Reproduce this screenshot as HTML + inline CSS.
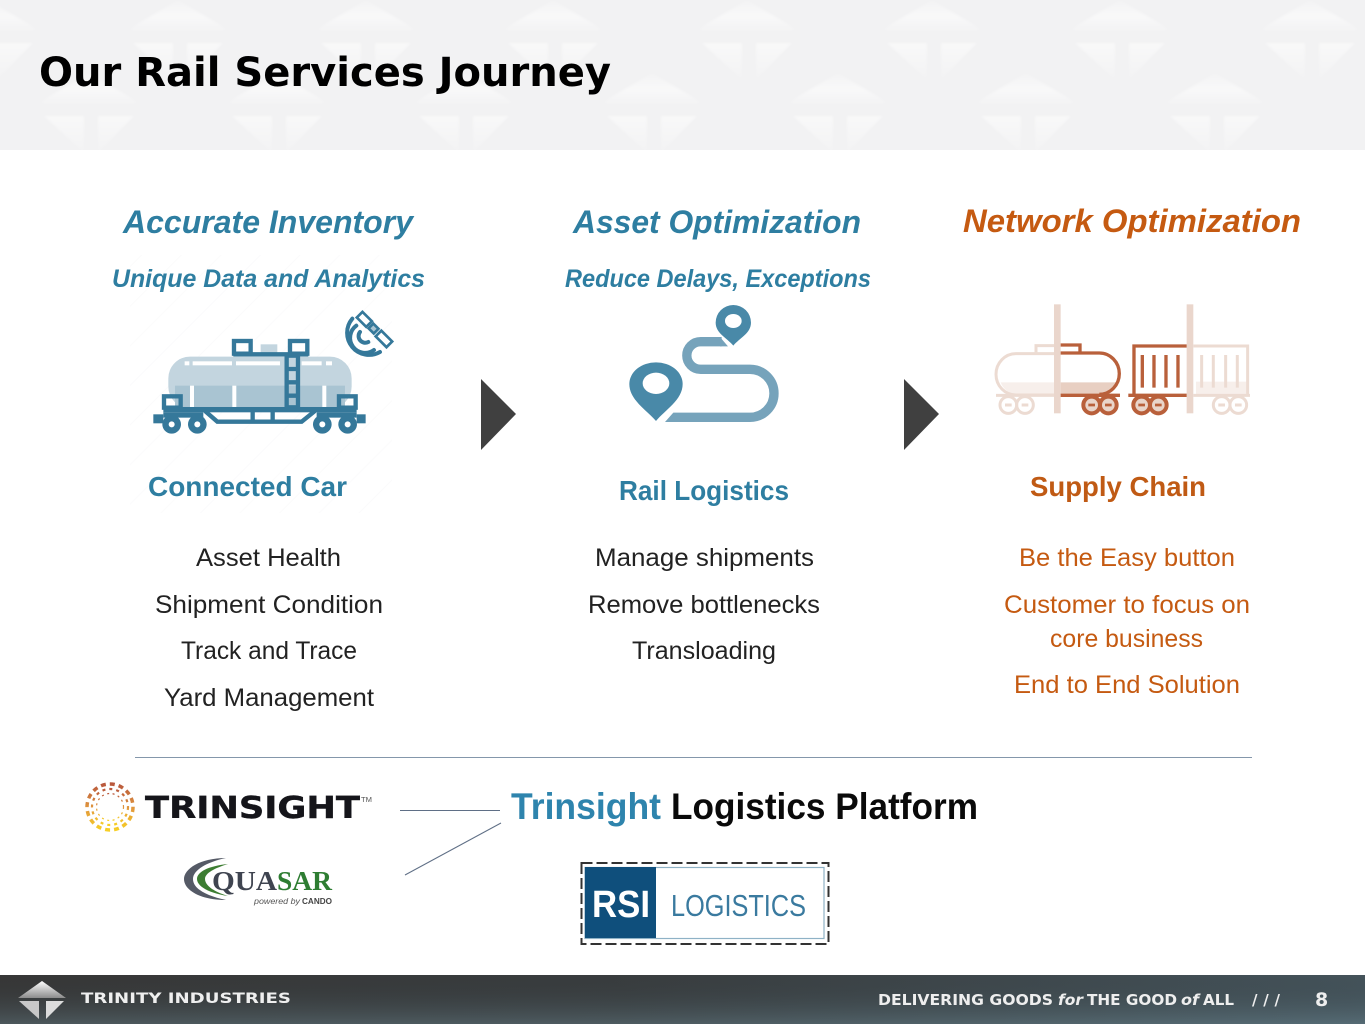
<!DOCTYPE html>
<html><head><meta charset="utf-8"><title>Our Rail Services Journey</title>
<style>
html,body{margin:0;padding:0;background:#fff;width:1365px;height:1024px;overflow:hidden}
svg{display:block}
text{font-family:"Liberation Sans",sans-serif}
.dj{font-family:"DejaVu Sans","Liberation Sans",sans-serif;font-weight:700}
.h{font-weight:700;font-style:italic}
.b{font-weight:700}
.l{fill:#222}
.o{fill:#c55a11}
</style></head><body>
<svg xmlns="http://www.w3.org/2000/svg" width="1365" height="1024" viewBox="0 0 1365 1024">
<defs>
<filter id="s" x="-5%" y="-5%" width="110%" height="110%"><feGaussianBlur stdDeviation="0.55"/></filter>
<filter id="s2" x="-5%" y="-5%" width="110%" height="110%"><feGaussianBlur stdDeviation="0.3"/></filter>
<filter id="s3" x="-5%" y="-5%" width="110%" height="110%"><feGaussianBlur stdDeviation="1.2"/></filter>
<linearGradient id="tri" x1="0" y1="0" x2="0" y2="1"><stop offset="0" stop-color="#fff" stop-opacity=".2"/><stop offset=".6" stop-color="#fff" stop-opacity=".9"/><stop offset="1" stop-color="#fff" stop-opacity=".4"/></linearGradient>
<linearGradient id="tri2" x1="0" y1="0" x2="0" y2="1"><stop offset="0" stop-color="#fff" stop-opacity=".9"/><stop offset="1" stop-color="#fff" stop-opacity=".15"/></linearGradient>
<g id="t">
<polygon points="-46,27 0,0 46,27" fill="url(#tri)"/>
<rect x="-47" y="28" width="94" height="2" fill="#fff" opacity=".5"/>
<polygon points="-45,43 -5,43 -5,80" fill="url(#tri2)"/>
<polygon points="9,43 45,43 9,80" fill="url(#tri2)"/>
</g>
<linearGradient id="foot" x1="0" y1="0" x2="1" y2="0"><stop offset="0" stop-color="#3c3c3c"/><stop offset=".45" stop-color="#3e4244"/><stop offset="1" stop-color="#4a5a62"/></linearGradient>
<linearGradient id="foot2" x1="0" y1="0" x2="0" y2="1"><stop offset="0" stop-color="#000" stop-opacity=".08"/><stop offset="1" stop-color="#6a8a96" stop-opacity=".35"/></linearGradient>
<linearGradient id="sun" x1="0" y1="0" x2="0" y2="1"><stop offset="0" stop-color="#b9583c"/><stop offset=".55" stop-color="#e39a3c"/><stop offset="1" stop-color="#f7cf25"/></linearGradient>
<linearGradient id="lg" x1="0" y1="0" x2="0" y2="1"><stop offset="0" stop-color="#fff"/><stop offset="1" stop-color="#8c8c8c"/></linearGradient>
<pattern id="hatch" width="28" height="28" patternUnits="userSpaceOnUse" patternTransform="rotate(-45)"><rect width="28" height="1" fill="#fbfbfc"/></pattern>
</defs>

<!-- header -->
<rect x="0" y="0" width="1365" height="150" fill="#f2f2f3"/>
<g filter="url(#s3)" opacity=".55">
<use href="#t" x="-12" y="0"/><use href="#t" x="178" y="0"/><use href="#t" x="366" y="0"/><use href="#t" x="553" y="0"/><use href="#t" x="747" y="0"/><use href="#t" x="932" y="0"/><use href="#t" x="1120" y="0"/><use href="#t" x="1310" y="0"/>
<use href="#t" x="89" y="73"/><use href="#t" x="277" y="73"/><use href="#t" x="464" y="73"/><use href="#t" x="652" y="73"/><use href="#t" x="838" y="73"/><use href="#t" x="1026" y="73"/><use href="#t" x="1215" y="73"/>
</g>
<rect x="0" y="150" width="1365" height="10" fill="#fff"/>
<text class="dj" x="39" y="86" font-size="40" fill="#000" textLength="572" lengthAdjust="spacingAndGlyphs">Our Rail Services Journey</text>

<!-- hatch background for train -->
<rect x="130" y="255" width="262" height="258" fill="url(#hatch)"/>

<!-- column headings -->
<g fill="#2e7ea1">
<text class="h" x="123" y="233" font-size="32" textLength="290" lengthAdjust="spacingAndGlyphs">Accurate Inventory</text>
<text class="h" x="112" y="287" font-size="25" textLength="313" lengthAdjust="spacingAndGlyphs">Unique Data and Analytics</text>
<text class="h" x="573" y="233" font-size="32" textLength="288" lengthAdjust="spacingAndGlyphs">Asset Optimization</text>
<text class="h" x="565" y="287" font-size="25" textLength="306" lengthAdjust="spacingAndGlyphs">Reduce Delays, Exceptions</text>
<text class="b" x="148" y="496" font-size="28" textLength="199" lengthAdjust="spacingAndGlyphs">Connected Car</text>
<text class="b" x="619" y="500" font-size="28" textLength="170" lengthAdjust="spacingAndGlyphs">Rail Logistics</text>
</g>
<text class="h" x="963" y="232" font-size="32" fill="#c55a11" textLength="338" lengthAdjust="spacingAndGlyphs">Network Optimization</text>
<text class="b" x="1030" y="496" font-size="28" fill="#c05a14" textLength="176" lengthAdjust="spacingAndGlyphs">Supply Chain</text>

<!-- lists -->
<g font-size="25">
<text class="l" x="196" y="566" textLength="145" lengthAdjust="spacingAndGlyphs">Asset Health</text>
<text class="l" x="155" y="613" textLength="228" lengthAdjust="spacingAndGlyphs">Shipment Condition</text>
<text class="l" x="181" y="659" textLength="176" lengthAdjust="spacingAndGlyphs">Track and Trace</text>
<text class="l" x="164" y="706" textLength="210" lengthAdjust="spacingAndGlyphs">Yard Management</text>
<text class="l" x="595" y="566" textLength="219" lengthAdjust="spacingAndGlyphs">Manage shipments</text>
<text class="l" x="588" y="613" textLength="232" lengthAdjust="spacingAndGlyphs">Remove bottlenecks</text>
<text class="l" x="632" y="659" textLength="144" lengthAdjust="spacingAndGlyphs">Transloading</text>
<text class="o" x="1019" y="566" textLength="216" lengthAdjust="spacingAndGlyphs">Be the Easy button</text>
<text class="o" x="1004" y="613" textLength="246" lengthAdjust="spacingAndGlyphs">Customer to focus on</text>
<text class="o" x="1050" y="647" textLength="153" lengthAdjust="spacingAndGlyphs">core business</text>
<text class="o" x="1014" y="693" textLength="226" lengthAdjust="spacingAndGlyphs">End to End Solution</text>
</g>

<!-- arrows -->
<polygon points="481,379 516,414 481,450" fill="#404040"/>
<polygon points="904,379 939,414 904,450" fill="#404040"/>

<!-- train icon -->
<g transform="translate(120 295) scale(.3333)" filter="url(#s)">
<rect x="422" y="148" width="50" height="30" fill="#c3d5df"/>
<rect x="145" y="185" width="550" height="155" rx="65" fill="#c3d5df"/>
<rect x="165" y="272" width="510" height="65" fill="#a9c4d2"/>
<g fill="#fff"><rect x="218" y="199" width="118" height="12"/><rect x="348" y="199" width="132" height="12"/><rect x="545" y="199" width="60" height="12"/><rect x="618" y="199" width="18" height="12"/><rect x="194" y="199" width="14" height="12"/>
<rect x="210" y="272" width="12" height="65"/><rect x="337" y="272" width="12" height="65"/><rect x="607" y="272" width="12" height="65"/></g>
<g fill="none" stroke="#35789a" stroke-width="13">
<rect x="342" y="138" width="50" height="38"/><rect x="510" y="138" width="52" height="38"/>
<rect x="500" y="182" width="34" height="155"/>
<path d="M500 222H534M500 262H534M500 302H534"/>
<rect x="132" y="304" width="50" height="34"/><rect x="657" y="304" width="50" height="34"/>
<path d="M340 178H565"/>
<path d="M255 348L292 380H545L585 348M398 348V380M458 348V380"/>
</g>
<rect x="130" y="336" width="580" height="16" fill="#35789a"/>
<rect x="100" y="358" width="30" height="27" fill="#35789a"/><rect x="710" y="358" width="27" height="27" fill="#35789a"/>
<rect x="130" y="352" width="120" height="16" fill="#35789a"/><rect x="590" y="352" width="120" height="16" fill="#35789a"/>
<g fill="#35789a"><circle cx="155" cy="388" r="28"/><circle cx="232" cy="388" r="28"/><circle cx="607" cy="388" r="28"/><circle cx="683" cy="388" r="28"/></g>
<g fill="#fff"><circle cx="155" cy="388" r="9"/><circle cx="232" cy="388" r="9"/><circle cx="607" cy="388" r="9"/><circle cx="683" cy="388" r="9"/></g>
<g fill="none" stroke="#35789a" stroke-width="12" stroke-linecap="round">
<path d="M697 71A66 66 0 0 0 780 171"/>
<path d="M709 92A42 42 0 0 0 762 165"/>
<path d="M720 111A20 20 0 0 0 745 141"/>
</g>
<g transform="rotate(45 760 100)" fill="#fff" stroke="#35789a" stroke-width="8">
<rect x="702" y="88" width="40" height="24"/><rect x="750" y="90" width="22" height="20" fill="#a9c4d2"/><rect x="782" y="88" width="46" height="24"/>
</g>
</g>

<!-- route icon -->
<g transform="translate(610 295) scale(.3333)" filter="url(#s)">
<path d="M335 140H272A41.500 41.500 0 0 0 272 223H420A72 72 0 0 1 420 367H190" fill="none" stroke="#76a3bb" stroke-width="28"/>
<polygon points="165,381 190,353 195,381" fill="#76a3bb"/>
<polygon points="330,126 354,154 330,154" fill="#76a3bb"/>
<path d="M138 378C110 345 58 315 58 267A80 65 0 0 1 218 267C218 315 165 345 138 378Z" fill="#4a89a8"/>
<ellipse cx="138" cy="265" rx="40" ry="32" fill="#fff"/>
<path d="M370 152C350 128 317 115 317 83A53 53 0 0 1 423 83C423 115 390 128 370 152Z" fill="#4a89a8"/>
<ellipse cx="370" cy="78" rx="25" ry="21" fill="#fff"/>
</g>

<!-- network icon -->
<g transform="translate(980 295) scale(.3333)" filter="url(#s)">
<rect x="222" y="28" width="20" height="327" fill="#ead6cc"/>
<rect x="620" y="28" width="20" height="327" fill="#ead6cc"/>
<path d="M222 262H62A60 60 0 0 0 110 300H222Z" fill="#f7efeb"/>
<path d="M242 262H412A60 60 0 0 1 365 300H242Z" fill="#e8cfc2"/>
<path d="M648 260H800V298H648Z" fill="#f7efeb"/>
<g fill="none" stroke="#ecdbd2" stroke-width="9">
<path d="M222 176H108A60 62 0 0 0 108 300H222"/>
<path d="M168 172V152H222"/>
<path d="M48 301H222"/>
<circle cx="85" cy="330" r="25"/><circle cx="135" cy="330" r="25"/>
<path d="M640 153H803V300M640 301H810"/>
<path d="M665 180V278M700 180V278M737 180V278M772 180V278"/>
<circle cx="725" cy="330" r="25"/><circle cx="775" cy="330" r="25"/>
<path d="M75 330H95M125 330H145M715 330H735M765 330H785"/>
</g>
<g fill="none" stroke="#b9603a" stroke-width="10">
<path d="M242 174H358A60 62 0 0 1 358 298"/>
<path d="M242 150H300V172"/>
<path d="M242 301H420M445 301H620"/>
<path d="M620 153H462V300"/>
<path d="M487 180V278M522 180V278M558 180V278M594 180V278" stroke-width="10"/>
</g>
<g fill="#e9d5ca" stroke="#b9603a" stroke-width="12">
<circle cx="335" cy="330" r="25"/><circle cx="385" cy="330" r="25"/><circle cx="485" cy="330" r="25"/><circle cx="535" cy="330" r="25"/>
</g>
<path d="M325 330H345M375 330H395M475 330H495M525 330H545" stroke="#b9603a" stroke-width="8"/>
</g>

<!-- divider -->
<line x1="135" y1="757.500" x2="1252" y2="757.500" stroke="#8497ab" stroke-width="1"/>
<line x1="400" y1="810.500" x2="500" y2="810.500" stroke="#5f6f86" stroke-width="1"/>
<line x1="405" y1="875" x2="501" y2="823" stroke="#5f6f86" stroke-width="1"/>

<!-- trinsight logo -->
<g fill="none" stroke="url(#sun)" filter="url(#s2)">
<circle cx="110" cy="807" r="23" stroke-width="3.500" stroke-dasharray="5 4"/>
<circle cx="110" cy="807" r="18" stroke-width="2.200" stroke-dasharray="3 4"/>
<circle cx="110" cy="807" r="13.500" stroke-width="1.200" stroke-dasharray="2 3.500"/>
</g>
<text class="dj" x="145" y="818" font-size="30" fill="#15151a" stroke="#15151a" stroke-width=".4" textLength="215" lengthAdjust="spacingAndGlyphs">TRINSIGHT</text>
<text x="361" y="802" font-size="7" fill="#555" textLength="11" lengthAdjust="spacingAndGlyphs">TM</text>

<!-- platform -->
<text class="b" x="511" y="819" font-size="37" fill="#2e84ad" textLength="150" lengthAdjust="spacingAndGlyphs">Trinsight</text>
<text class="b" x="671" y="819" font-size="37" fill="#0a0a0a" textLength="307" lengthAdjust="spacingAndGlyphs">Logistics Platform</text>

<!-- quasar -->
<g filter="url(#s2)">
<path d="M226 858C200 858 184 869 184 879C184 890 200 900 226 900C207 896 193 889 193 879C193 870 207 862 226 858Z" fill="#555a66"/>
<path d="M228 864C208 866 197 872 197 879C197 886 208 893 228 896C215 892 205 886 205 879C205 873 215 868 228 864Z" fill="#3e7d33"/>
</g>
<text x="212" y="890" font-size="27" font-weight="700" fill="#3f4450" style='font-family:"Liberation Serif",serif' textLength="65" lengthAdjust="spacingAndGlyphs">QUA</text>
<text x="277" y="890" font-size="27" font-weight="700" fill="#2e7d32" style='font-family:"Liberation Serif",serif' textLength="55" lengthAdjust="spacingAndGlyphs">SAR</text>
<text x="254" y="904" font-size="8" font-style="italic" fill="#555" textLength="46" lengthAdjust="spacingAndGlyphs">powered by</text>
<text x="302" y="904" font-size="8" font-weight="700" fill="#444" textLength="30" lengthAdjust="spacingAndGlyphs">CANDO</text>

<!-- RSI -->
<rect x="581.500" y="863" width="247" height="81" fill="none" stroke="#333" stroke-width="2" stroke-dasharray="11 4"/>
<rect x="585" y="867.500" width="239" height="71" fill="#fff" stroke="#8fb2c6" stroke-width="1.200"/>
<rect x="585" y="867" width="71" height="71" fill="#0f4f7c"/>
<text class="b" x="592" y="917" font-size="38" fill="#fff" textLength="58" lengthAdjust="spacingAndGlyphs">RSI</text>
<text x="671" y="916" font-size="31" fill="#3a7a9f" textLength="135" lengthAdjust="spacingAndGlyphs">LOGISTICS</text>

<!-- footer -->
<rect x="0" y="975" width="1365" height="49" fill="url(#foot)"/>
<rect x="0" y="975" width="1365" height="49" fill="url(#foot2)"/>
<g filter="url(#s2)">
<polygon points="42,981 18,998 66,998" fill="url(#lg)"/>
<polygon points="19,1001 39,1001 39,1019" fill="#c8c8c8"/>
<polygon points="46,1001 64,1001 46,1019" fill="#dcdcdc"/>
</g>
<text class="dj" x="81" y="1003" font-size="14" fill="#efefef" textLength="210" lengthAdjust="spacingAndGlyphs">TRINITY INDUSTRIES</text>
<g font-size="15" fill="#eeeeee">
<text class="dj" x="878" y="1005" textLength="175" lengthAdjust="spacingAndGlyphs">DELIVERING GOODS</text>
<text class="dj" x="1058" y="1005" font-style="italic" textLength="25" lengthAdjust="spacingAndGlyphs">for</text>
<text class="dj" x="1087" y="1005" textLength="90" lengthAdjust="spacingAndGlyphs">THE GOOD</text>
<text class="dj" x="1181" y="1005" font-style="italic" textLength="18" lengthAdjust="spacingAndGlyphs">of</text>
<text class="dj" x="1203" y="1005" textLength="31" lengthAdjust="spacingAndGlyphs">ALL</text>
<text class="dj" x="1252" y="1005" textLength="28" lengthAdjust="spacing">///</text>
</g>
<text class="dj" x="1315" y="1006" font-size="19" fill="#eeeeee">8</text>
</svg>
</body></html>
